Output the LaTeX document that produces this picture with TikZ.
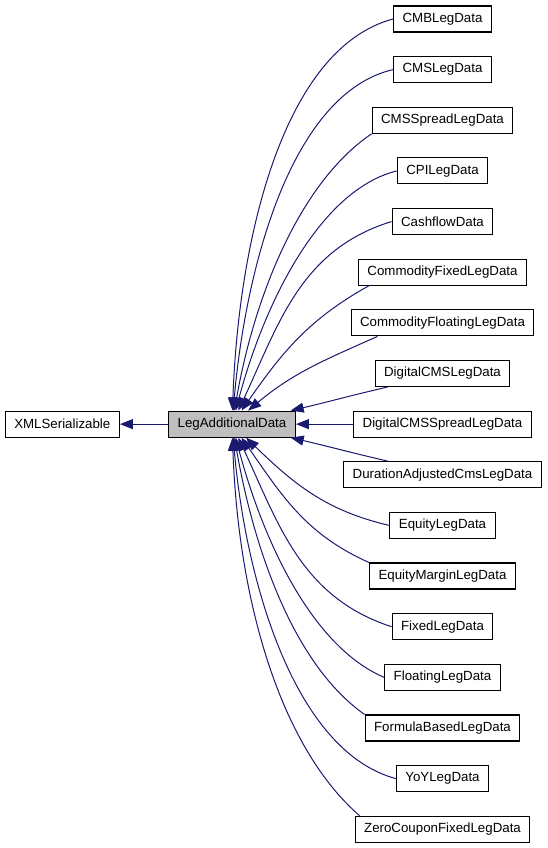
\documentclass[tikz,border=0pt]{standalone}
\usepackage{fontspec}
\setmainfont{Liberation Sans}
\usetikzlibrary{
	positioning,
	arrows.meta
}
\definecolor{edgeblue}{RGB}{25,25,112}
\definecolor{basegray}{RGB}{191,191,191}
\tikzset{
	node distance=50.64pt,
	class/.style={
		rectangle,
		draw=black,
		line width=1.1pt,
		minimum height=26pt,
		inner xsep=9pt,
		inner ysep=0pt,
		font=\fontsize{13.3}{16}\selectfont
	},
	every edge/.append style={
		draw=edgeblue,
		line width=1pt,
		-{Triangle[length=13pt,width=10pt]}
	}
}

\begin{document}
\begin{tikzpicture}
	\useasboundingbox (0pt,0pt) rectangle (548pt,-848pt);
	\draw
		node[class] (cmb) at (442.5pt,-19pt) {CMBLegData}
		node[class,below of=cmb]          (cms)          {CMSLegData}
		node[class,below of=cms]          (cmsspread)    {CMSSpreadLegData}
		node[class,below of=cmsspread]    (cpi)          {CPILegData}
		node[class,below of=cpi]          (cashflow)     {CashflowData}
		node[class,below of=cashflow]     (comfixed)     {CommodityFixedLegData}
		node[class,below of=comfixed]     (comfloat)     {CommodityFloatingLegData}
		node[class,below of=comfloat]     (digcms)       {DigitalCMSLegData}
		node[class,below of=digcms]       (digcmsspread) {DigitalCMSSpreadLegData}
		node[class,below of=digcmsspread] (duradj)       {DurationAdjustedCmsLegData}
		node[class,below of=duradj]       (equity)       {EquityLegData}
		node[class,below of=equity]       (eqmargin)     {EquityMarginLegData}
		node[class,below of=eqmargin]     (fixed)        {FixedLegData}
		node[class,below of=fixed]        (floating)     {FloatingLegData}
		node[class,below of=floating]     (formula)      {FormulaBasedLegData}
		node[class,below of=formula]      (yoy)          {YoYLegData}
		node[class,below of=yoy]          (zerocpn)      {ZeroCouponFixedLegData}
		node[class,fill=basegray,node distance=210.5pt,left of=digcmsspread] (lad) {LegAdditionalData}
		node[class,node distance=169.7pt,left of=lad] (xml) {XMLSerializable}

		(lad) edge (xml)
		(cmb.west)                     edge[out=195,in=88,out looseness=0.7] (lad)
		(cms.west)                     edge[out=193,in=85,out looseness=0.7] (lad)
		(cmsspread.south west)         edge[out=214,in=80,out looseness=0.7] (lad)
		(cpi.west)                     edge[out=194,in=75,out looseness=0.7] (lad)
		(cashflow.west)                edge[out=197,in=65] (lad)
		([xshift=11pt]comfixed.south west) edge[out=209,in=55] (lad)
		([xshift=27pt]comfloat.south west) edge[out=204,in=40] (lad)
		([xshift=13pt]digcms.south west)   edge[out=193,in=13] (lad)
		(digcmsspread)                 edge (lad)
		([xshift=45pt]duradj.north west)   edge[out=167,in=-13] (lad)
		(equity.west)                  edge[out=167,in=-44] (lad)
		(eqmargin.north west)          edge[out=156,in=-55] (lad)
		(fixed.west)                   edge[out=162,in=-65] (lad)
		(floating.west)                edge[out=157,in=-75,out looseness=0.7] (lad)
		(formula.north west)           edge[out=145,in=-80,out looseness=0.7] (lad)
		(yoy.west)                     edge[out=165,in=-85,out looseness=0.7] (lad)
		([xshift=5pt]zerocpn.north west)   edge[out=139,in=-88,out looseness=0.7] (lad)
	;
\end{tikzpicture}
\end{document}
